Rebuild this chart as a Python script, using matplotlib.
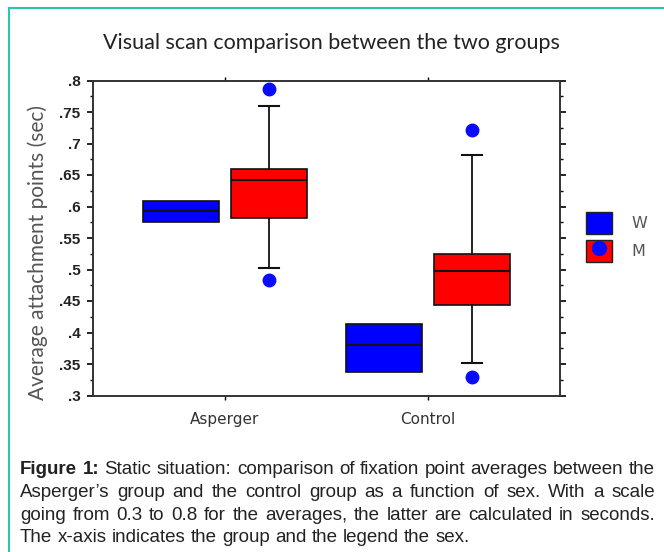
import matplotlib
matplotlib.use("Agg")
import matplotlib.pyplot as plt
from matplotlib.patches import Patch
from matplotlib.lines import Line2D
from matplotlib.legend_handler import HandlerTuple
from matplotlib.ticker import MultipleLocator

# data
groups = ["Asperger", "Control"]
sexes = ["W", "M"]
w_q1 = [0.576, 0.338]
w_med = [0.593, 0.380]
w_q3 = [0.608, 0.414]
m_q1 = [0.582, 0.443]
m_med = [0.642, 0.498]
m_q3 = [0.660, 0.524]
m_lo = [0.503, 0.351]
m_hi = [0.760, 0.681]
m_out = [[0.484, 0.787], [0.330, 0.722]]
yticks = [0.3, 0.35, 0.4, 0.45, 0.5, 0.55, 0.6, 0.65, 0.7, 0.75, 0.8]
ylabels = [".3", ".35", ".4", ".45", ".5", ".55", ".6", ".65", ".7", ".75", ".8"]

title = "Visual scan comparison between the two groups"
ylab = "Average attachment points (sec)"
caption = [
    "Static situation: comparison of fixation point averages between the",
    "Asperger\u2019s group and the control group as a function of sex. With a scale",
    "going from 0.3 to 0.8 for the averages, the latter are calculated in seconds.",
    "The x-axis indicates the group and the legend the sex.",
]

W, H = 664, 552
fig = plt.figure(figsize=(W / 100, H / 100), dpi=100)
ax = fig.add_axes([93 / W, 1 - 395.5 / H, 467 / W, 315 / H])

off = 0.217
bw = 0.375
pos = [1, 2]

wstats = []
mstats = []
for i in range(2):
    wstats.append(dict(med=w_med[i], q1=w_q1[i], q3=w_q3[i],
                       whislo=w_q1[i], whishi=w_q3[i], fliers=[]))
    mstats.append(dict(med=m_med[i], q1=m_q1[i], q3=m_q3[i],
                       whislo=m_lo[i], whishi=m_hi[i], fliers=m_out[i]))

ax.bxp(wstats, positions=[p - off for p in pos], widths=bw, patch_artist=True,
       showcaps=False, showfliers=False,
       boxprops=dict(facecolor="#0000ff", edgecolor="#111111", linewidth=1.2),
       medianprops=dict(color="#111111", linewidth=1.5),
       whiskerprops=dict(linewidth=0))
ax.bxp(mstats, positions=[p + off for p in pos], widths=bw, patch_artist=True,
       capwidths=0.1,
       boxprops=dict(facecolor="#ff0000", edgecolor="#111111", linewidth=1.2),
       medianprops=dict(color="#111111", linewidth=1.5),
       whiskerprops=dict(color="#111111", linewidth=1.3),
       capprops=dict(color="#111111", linewidth=1.5),
       flierprops=dict(marker="o", markersize=9, markerfacecolor="#0a0aff",
                       markeredgecolor="#0a0aff"))

ax.set_xlim(0.35, 2.65)
ax.set_ylim(0.3, 0.8)
ax.set_xticks(pos)
ax.set_xticklabels(groups, family="DejaVu Sans", fontsize=11, color="#333333")
ax.set_yticks(yticks)
ax.set_yticklabels(ylabels, family=["Liberation Sans", "DejaVu Sans"],
                   fontweight="bold", fontsize=11, color="#222222")
ax.yaxis.set_minor_locator(MultipleLocator(0.025))
ax.tick_params(axis="y", which="both", direction="out", right=True, left=True)
ax.tick_params(axis="y", which="major", length=4, width=1.2, pad=5)
ax.tick_params(axis="y", which="minor", length=2.5, width=1)
ax.tick_params(axis="x", direction="out", top=True, length=3, width=1, pad=9)
for s in ax.spines.values():
    s.set_linewidth(1.4)
    s.set_color("#333333")

fig.text(331 / W, 1 - 43 / H, title, ha="center", va="center",
         family=["Lato", "DejaVu Sans"], fontsize=15.5, color="#222222")
fig.text(38 / W, 1 - 252 / H, ylab, ha="center", va="center", rotation=90,
         family=["Lato", "DejaVu Sans"], fontsize=15, color="#555555")

hW = Patch(facecolor="#0000ff", edgecolor="#222222", linewidth=1)
hM = (Patch(facecolor="#ff0000", edgecolor="#222222", linewidth=1),
      Line2D([], [], marker="o", linestyle="", markersize=10,
             markerfacecolor="#0a0aff", markeredgecolor="#0a0aff"))
fig.legend([hW, hM], sexes, loc="center left",
           bbox_to_anchor=(572 / W, 1 - 237 / H), frameon=False,
           handler_map={tuple: HandlerTuple(ndivide=1, pad=0)},
           handlelength=1.6, handleheight=1.75, handletextpad=1.2,
           labelspacing=0.35, prop=dict(family="DejaVu Sans", size=11.5),
           labelcolor="#555555")

# teal frame
fig.add_artist(Line2D([9 / W, 9 / W], [0, 1 - 8 / H], transform=fig.transFigure,
                      color="#2ec4a9", linewidth=1.5))
fig.add_artist(Line2D([9 / W, 1], [1 - 8 / H, 1 - 8 / H], transform=fig.transFigure,
                      color="#2ec4a9", linewidth=1.5))

# justified caption
fig.canvas.draw()
r = fig.canvas.get_renderer()
cfam = ["Liberation Sans Narrow", "Liberation Sans", "DejaVu Sans"]
csize = 13.5
x0, x1 = 20, 655
base = [474, 497, 520, 542]
probe = fig.text(0, 0, "a a", family=cfam, fontsize=csize)
w2 = probe.get_window_extent(r).width
probe.set_text("aa")
spw = w2 - probe.get_window_extent(r).width
probe.remove()
for li, line in enumerate(caption):
    items = []
    if li == 0:
        items.append(("Figure", "bold"))
        items.append(("1:", "bold"))
    for wd in line.split(" "):
        items.append((wd, "normal"))
    texts = []
    widths = []
    for wd, fw in items:
        t = fig.text(0, 1 - base[li] / H, wd, ha="left", va="baseline",
                     family=cfam, fontsize=csize, fontweight=fw, color="#222222")
        texts.append(t)
        widths.append(t.get_window_extent(r).width)
    if li < len(caption) - 1:
        gap = (x1 - x0 - sum(widths)) / (len(items) - 1)
    else:
        gap = spw
    x = x0
    for t, w in zip(texts, widths):
        t.set_x(x / W)
        x += w + gap

fig.savefig("out.png", dpi=100)
